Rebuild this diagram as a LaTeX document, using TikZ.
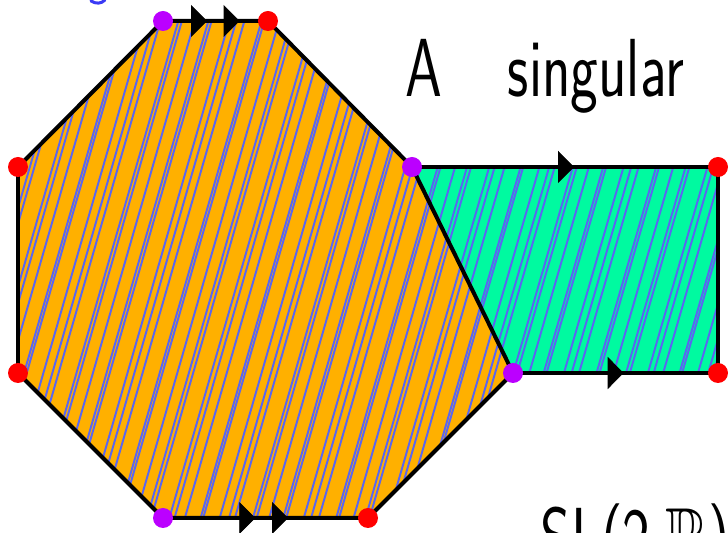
\documentclass[tikz,border=0pt]{standalone}
\usepackage{amssymb}
\usetikzlibrary{arrows.meta,decorations.markings}

\definecolor{octorange}{HTML}{FFB000}
\definecolor{bandgreen}{HTML}{00FAA0}
\definecolor{hatchblue}{HTML}{5A66F0}
\definecolor{inkblue}{HTML}{3A3AF5}
\definecolor{dotred}{HTML}{FF0000}
\definecolor{dotpurple}{HTML}{BB00FF}

\begin{document}
\begin{tikzpicture}[
    x=0.02cm, y=-0.02cm,
    edge/.style={line width=0.08cm, line join=round},
    hatch/.style={draw=hatchblue, line width=1.1pt},
    reddot/.style={fill=dotred},
    purpledot/.style={fill=dotpurple},
    onetip/.style={
        decoration={markings,
          mark=at position #1 with {\arrow{Triangle[length=0.32cm,width=0.64cm]}}},
        postaction={decorate}
    },
    twotips/.style 2 args={
        decoration={markings,
          mark=at position #1 with {\arrow{Triangle[length=0.32cm,width=0.64cm]}},
          mark=at position #2 with {\arrow{Triangle[length=0.32cm,width=0.64cm]}}},
        postaction={decorate}
    },
    hand/.style={font=\sffamily\fontsize{33.5}{38}\selectfont, inner sep=0pt}
]

\def\dotr{10}

\useasboundingbox (0,0) rectangle (728,533);
\clip (0,0) rectangle (728,533);

%% ===== VERTICES =====
\coordinate (o1) at (163,21);
\coordinate (o2) at (268,21);
\coordinate (o3) at (412,167);
\coordinate (o4) at (513,373);
\coordinate (o5) at (368,518);
\coordinate (o6) at (163,518);
\coordinate (o7) at (18,373);
\coordinate (o8) at (18,167);
\coordinate (g2) at (718,167);
\coordinate (g3) at (718,373);

%% ===== FILLS =====
\fill[octorange] (o1) -- (o2) -- (o3) -- (o4) -- (o5) -- (o6) -- (o7) -- (o8) -- cycle;
\fill[bandgreen] (o3) -- (g2) -- (g3) -- (o4) -- cycle;

%% ===== HATCHING =====
\begin{scope}
  \clip (o1) -- (o2) -- (o3) -- (o4) -- (o5) -- (o6) -- (o7) -- (o8) -- cycle
        (o3) -- (g2) -- (g3) -- (o4) -- cycle;
  \foreach \i in {0,...,90} {
    \pgfmathsetmacro\xa{-175 + 10.4*\i + 4.2*sin(\i*137)}
    \draw[hatch] (\xa,545) -- ++(162,-560);
  }
\end{scope}

%% ===== EDGES =====
\draw[edge] (o1) -- (o2) -- (o3) -- (o4) -- (o5) -- (o6) -- (o7) -- (o8) -- cycle;
\draw[edge] (o3) -- (g2) -- (g3) -- (o4);

\path[twotips={0.42}{0.73}] (o1) -- (o2);
\path[twotips={0.45}{0.61}] (o6) -- (o5);
\path[onetip=0.53] (o3) -- (g2);
\path[onetip=0.54] (o4) -- (g3);

%% ===== CORNER DOTS =====
\foreach \v in {o1,o3,o4,o6}
  \fill[purpledot] (\v) circle (\dotr);
\foreach \v in {o2,o5,o7,o8,g2,g3}
  \fill[reddot] (\v) circle (\dotr);

%% ===== HANDWRITING =====
\node[hand, anchor=base west] (title) at (405,97)
  {\scalebox{1}[1.4]{A\hspace{1.12em}singular}};
\node[hand, anchor=base west] (group) at (540,566)
  {\scalebox{1}[1.4]{SL(2,$\mathbb{R}$)}};
\draw[inkblue, line width=0.06cm, line cap=round]
  (91,1) .. controls (96,4) and (101,4) .. (105,0);

\end{tikzpicture}
\end{document}
